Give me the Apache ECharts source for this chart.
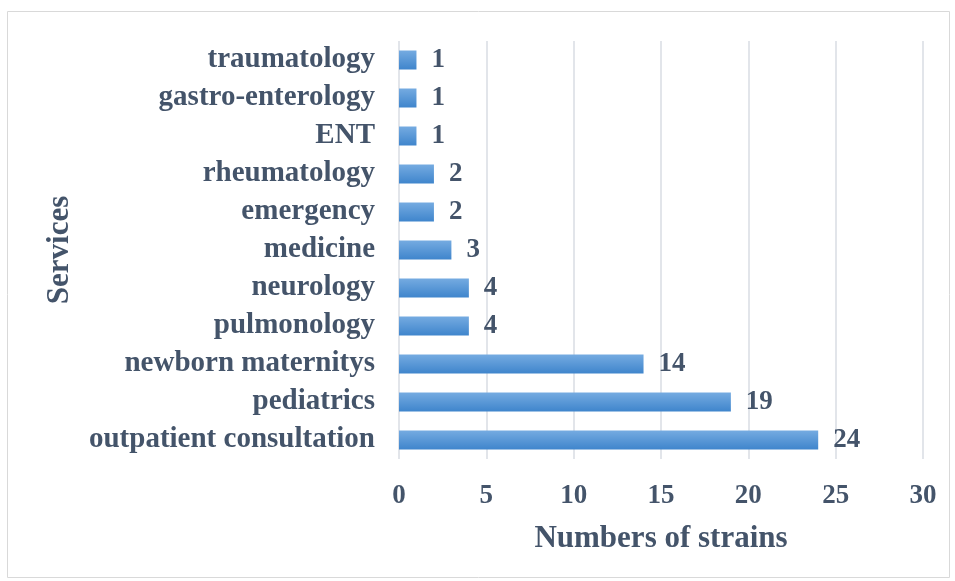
<!DOCTYPE html>
<html><head><meta charset="utf-8">
<script src="https://cdn.jsdelivr.net/npm/echarts@6/dist/echarts.min.js"></script>
<style>html,body{margin:0;padding:0;background:#fff}#c{width:955px;height:581px}</style>
</head><body><div id="c"></div>
<script>
const categories = ["outpatient consultation","pediatrics","newborn maternitys","pulmonology","neurology","medicine","emergency","rheumatology","ENT","gastro-enterology","traumatology"];
const values = [24,19,14,4,4,3,2,2,1,1,1];
const xTicks = [0,5,10,15,20,25,30];
const xTitle = "Numbers of strains";
const yTitle = "Services";

const txt = '#44546A';
const ff = '"Liberation Serif","Times New Roman",serif';
const chart = echarts.init(document.getElementById('c'));
chart.setOption({
  animation:false,
  graphic:[{type:'rect',shape:{x:7.5,y:11.5,width:942,height:566},style:{fill:'none',stroke:'#D9D9D9',lineWidth:1}}],
  grid:{left:399,right:32,top:41,bottom:122,containLabel:false},
  xAxis:{type:'value',min:xTicks[0],max:xTicks[xTicks.length-1],interval:5,
    name:xTitle,nameLocation:'middle',nameGap:64,
    nameTextStyle:{color:txt,fontFamily:ff,fontWeight:'bold',fontSize:31},
    axisLine:{show:false},axisTick:{show:false},
    axisLabel:{color:txt,fontFamily:ff,fontWeight:'bold',fontSize:27,margin:24},
    splitLine:{show:true,lineStyle:{color:'#D9DDE3',width:1.5}}},
  yAxis:{type:'category',data:categories,
    name:yTitle,nameLocation:'middle',nameGap:324,nameRotate:90,
    nameTextStyle:{color:txt,fontFamily:ff,fontWeight:'bold',fontSize:31},
    axisLine:{show:false},axisTick:{show:false},
    axisLabel:{color:txt,fontFamily:ff,fontWeight:'bold',fontSize:29,margin:24}},
  series:[{type:'bar',data:values,barCategoryGap:'50%',
    itemStyle:{color:new echarts.graphic.LinearGradient(0,0,0,1,[{offset:0,color:'#75ABE1'},{offset:1,color:'#3F85CC'}])},
    label:{show:true,position:'right',distance:15,color:txt,fontFamily:ff,fontWeight:'bold',fontSize:27}}]
});
</script></body></html>
